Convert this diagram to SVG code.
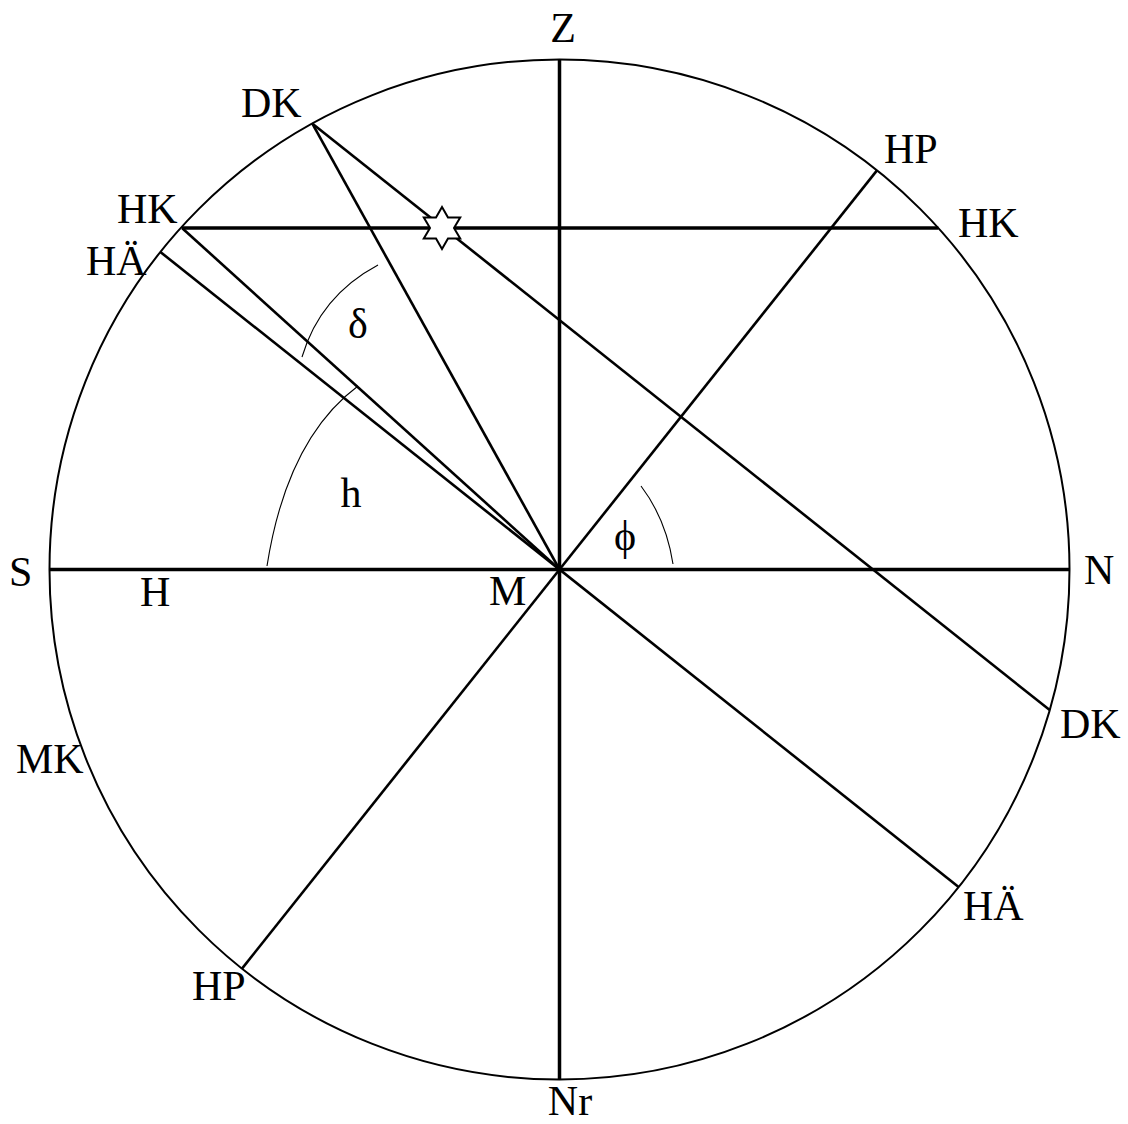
<svg xmlns="http://www.w3.org/2000/svg" width="1128" height="1124" viewBox="0 0 1128 1124">
<style>
text{font-family:"Liberation Serif","Times New Roman",serif;font-size:42px;fill:#000}
.thick{stroke:#000;stroke-width:3.5;fill:none;stroke-linecap:butt}
.line{stroke:#000;stroke-width:2.6;fill:none}
.arc{stroke:#000;stroke-width:1.1;fill:none}
</style>
<rect width="1128" height="1124" fill="#fff"/>
<g id="circle"><circle cx="559.5" cy="569.5" r="510" fill="none" stroke="#000" stroke-width="2"/></g>
<g id="connectors">
<line class="thick" x1="49.5" y1="569.5" x2="1069.5" y2="569.5"/>
<line class="thick" x1="559.5" y1="59.5" x2="559.5" y2="1079.5"/>
<line class="thick" x1="182" y1="228" x2="938.3" y2="228"/>
<line class="line" x1="160.4" y1="252" x2="958.6" y2="887"/>
<line class="line" x1="877" y1="170.4" x2="242" y2="968.6"/>
<line class="line" x1="312.2" y1="123.4" x2="1049.7" y2="710.1"/>
<line class="line" x1="312.2" y1="123.4" x2="559.5" y2="569.5"/>
<line class="line" x1="182" y1="228" x2="559.5" y2="569.5"/>
<path class="arc" d="M267,566 Q287,439 358,386"/>
<path class="arc" d="M378,265 Q320,296 302,357"/>
<path class="arc" d="M641,486 Q666,519 673,564"/>
</g>
<g id="star"><polygon transform="translate(442,228)" fill="#fff" stroke="#000" stroke-width="2" points="0,-21 6,-10.4 18.2,-10.5 12,0 18.2,10.5 6,10.4 0,21 -6,10.4 -18.2,10.5 -12,0 -18.2,-10.5 -6,-10.4"/></g>
<g id="label-Z"><text x="563" y="42" text-anchor="middle">Z</text></g>
<g id="label-Nr"><text x="570" y="1115" text-anchor="middle">Nr</text></g>
<g id="label-S"><text x="9" y="586">S</text></g>
<g id="label-N"><text x="1084" y="584">N</text></g>
<g id="label-H"><text x="140" y="606">H</text></g>
<g id="label-M"><text x="489" y="605">M</text></g>
<g id="label-DK-top"><text x="241" y="117">DK</text></g>
<g id="label-DK-bottom"><text x="1060" y="738">DK</text></g>
<g id="label-HP-top"><text x="884" y="163">HP</text></g>
<g id="label-HP-bottom"><text x="192" y="1000">HP</text></g>
<g id="label-HK-left"><text x="117" y="223">HK</text></g>
<g id="label-HK-right"><text x="958" y="237">HK</text></g>
<g id="label-HA-left"><text x="86" y="275">HÄ</text></g>
<g id="label-HA-right"><text x="963" y="920">HÄ</text></g>
<g id="label-MK"><text x="16" y="773">MK</text></g>
<g id="label-delta"><text x="358" y="338" text-anchor="middle">δ</text></g>
<g id="label-h"><text x="351" y="507" text-anchor="middle">h</text></g>
<g id="label-phi"><text x="625" y="550" text-anchor="middle" font-size="44">ϕ</text></g>
</svg>
